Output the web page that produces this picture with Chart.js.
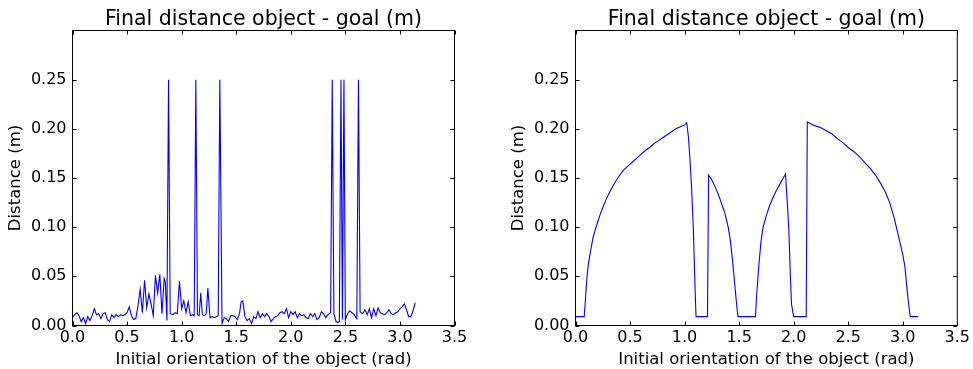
<!DOCTYPE html>
<html><head><meta charset="utf-8">
<script src="https://cdn.jsdelivr.net/npm/chart.js@4.4.0/dist/chart.umd.min.js"></script>
<style>
html,body{margin:0;padding:0;background:#fff;width:973px;height:369px;overflow:hidden}
.panel{position:absolute;top:0;height:369px}
canvas{display:block}
</style></head><body>
<div class="panel" style="left:0;width:486px"><canvas id="c1" width="486" height="369"></canvas></div>
<div class="panel" style="left:486px;width:487px"><canvas id="c2" width="487" height="369"></canvas></div>
<script>
const titleText = 'Final distance object - goal (m)';
const xLabel = 'Initial orientation of the object (rad)';
const yLabel = 'Distance (m)';
const xTickValues = [0.0, 0.5, 1.0, 1.5, 2.0, 2.5, 3.0, 3.5];
const xTickLabels = ['0.0','0.5','1.0','1.5','2.0','2.5','3.0','3.5'];
const yTickValues = [0.00, 0.05, 0.10, 0.15, 0.20, 0.25];
const yTickLabels = ['0.00','0.05','0.10','0.15','0.20','0.25'];

// Left panel
const leftAngles = [
  0.00,0.02,0.04,0.06,0.08,0.10,0.12,0.14,0.16,0.18,
  0.20,0.22,0.24,0.26,0.28,0.30,0.32,0.34,0.36,0.38,
  0.40,0.42,0.44,0.46,0.48,0.50,0.52,0.54,0.56,0.58,
  0.60,0.62,0.64,0.66,0.68,0.70,0.72,0.74,0.76,0.78,
  0.80,0.82,0.84,0.85,0.865,0.88,0.895,0.92,0.94,0.96,
  0.98,1.00,1.02,1.04,1.06,1.08,1.10,1.115,1.13,1.145,
  1.16,1.175,1.19,1.21,1.225,1.24,1.26,1.28,1.30,1.32,
  1.335,1.35,1.37,1.39,1.41,1.43,1.45,1.47,1.49,1.51,
  1.53,1.545,1.56,1.58,1.60,1.62,1.64,1.66,1.68,1.70,
  1.72,1.74,1.76,1.78,1.80,1.82,1.84,1.86,1.88,1.90,
  1.92,1.94,1.96,1.98,2.00,2.02,2.04,2.06,2.08,2.10,
  2.12,2.14,2.16,2.18,2.20,2.22,2.24,2.26,2.28,2.30,
  2.32,2.34,2.365,2.38,2.395,2.415,2.43,2.445,2.46,2.473,
  2.487,2.50,2.52,2.54,2.56,2.58,2.605,2.62,2.635,2.66,
  2.68,2.70,2.72,2.74,2.76,2.78,2.80,2.82,2.84,2.86,
  2.88,2.90,2.92,2.94,2.96,2.98,3.00,3.02,3.04,3.06,
  3.08,3.10,3.12,3.14
];
const leftDistances = [
  0.008,0.011,0.013,0.010,0.004,0.008,0.002,0.009,0.005,0.010,
  0.017,0.011,0.012,0.007,0.012,0.013,0.006,0.004,0.011,0.008,
  0.011,0.009,0.011,0.010,0.011,0.013,0.019,0.010,0.006,0.007,
  0.020,0.037,0.013,0.046,0.018,0.032,0.022,0.010,0.051,0.033,
  0.052,0.012,0.048,0.045,0.005,0.250,0.012,0.011,0.013,0.012,
  0.045,0.017,0.025,0.013,0.024,0.010,0.011,0.010,0.250,0.011,
  0.010,0.033,0.011,0.010,0.012,0.038,0.008,0.009,0.008,0.009,
  0.010,0.250,0.002,0.008,0.007,0.004,0.010,0.010,0.009,0.006,
  0.012,0.024,0.025,0.009,0.005,0.007,0.002,0.009,0.007,0.014,
  0.008,0.012,0.009,0.012,0.009,0.004,0.007,0.009,0.010,0.013,
  0.014,0.012,0.017,0.008,0.014,0.011,0.014,0.008,0.012,0.010,
  0.011,0.008,0.007,0.012,0.009,0.012,0.006,0.008,0.014,0.012,
  0.008,0.011,0.013,0.250,0.012,0.004,0.003,0.004,0.250,0.006,
  0.250,0.006,0.012,0.015,0.013,0.011,0.007,0.250,0.014,0.012,
  0.016,0.011,0.017,0.008,0.017,0.010,0.018,0.013,0.012,0.011,
  0.013,0.016,0.012,0.011,0.013,0.014,0.017,0.019,0.022,0.016,
  0.009,0.009,0.015,0.023
];

// Right panel
const rightAngles = [
  0.00,0.08,0.09,0.10,0.11,0.12,0.14,0.16,0.18,0.20,
  0.22,0.25,0.28,0.31,0.34,0.37,0.40,0.44,0.48,0.52,
  0.56,0.60,0.64,0.68,0.72,0.76,0.80,0.84,0.88,0.92,
  0.96,1.00,1.02,1.035,1.05,1.065,1.08,1.09,1.10,1.105,
  1.21,1.22,1.25,1.28,1.31,1.34,1.37,1.40,1.42,1.44,
  1.46,1.48,1.49,1.65,1.66,1.68,1.70,1.72,1.75,1.78,
  1.81,1.84,1.87,1.90,1.925,1.94,1.955,1.97,1.98,2.00,
  2.115,2.125,2.16,2.20,2.25,2.30,2.35,2.40,2.45,2.50,
  2.55,2.60,2.65,2.70,2.75,2.80,2.84,2.88,2.92,2.95,
  2.98,3.00,3.02,3.04,3.06,3.07,3.14
];
const rightDistances = [
  0.009,0.009,0.025,0.042,0.055,0.064,0.077,0.089,0.097,0.104,
  0.111,0.120,0.128,0.135,0.141,0.147,0.152,0.158,0.162,0.166,
  0.170,0.174,0.178,0.181,0.185,0.188,0.191,0.194,0.197,0.200,
  0.202,0.204,0.206,0.192,0.168,0.138,0.100,0.060,0.025,0.009,
  0.009,0.153,0.148,0.141,0.133,0.124,0.114,0.100,0.086,0.066,
  0.042,0.018,0.009,0.009,0.030,0.060,0.085,0.100,0.112,0.122,
  0.130,0.137,0.143,0.149,0.154,0.128,0.100,0.050,0.022,0.009,
  0.009,0.207,0.205,0.203,0.201,0.198,0.195,0.190,0.186,0.181,
  0.177,0.172,0.166,0.160,0.153,0.144,0.136,0.125,0.110,0.096,
  0.082,0.072,0.060,0.036,0.016,0.009,0.009
];

const FONT = "'DejaVu Sans', sans-serif";

const framePlugin = {
  id: 'frame',
  afterDraw(chart) {
    const {ctx, chartArea: a, scales: {x, y}} = chart;
    ctx.save();
    ctx.strokeStyle = '#000';
    ctx.lineWidth = 1;
    ctx.beginPath();
    x.ticks.forEach(t => {
      const p = Math.round(x.getPixelForValue(t.value)) + 0.5;
      ctx.moveTo(p, a.bottom); ctx.lineTo(p, a.bottom - 4);
      ctx.moveTo(p, a.top); ctx.lineTo(p, a.top + 4);
    });
    y.ticks.forEach(t => {
      const p = Math.round(y.getPixelForValue(t.value)) + 0.5;
      ctx.moveTo(a.left, p); ctx.lineTo(a.left + 4, p);
      ctx.moveTo(a.right, p); ctx.lineTo(a.right - 4, p);
    });
    ctx.stroke();
    ctx.strokeRect(a.left, a.top, a.right - a.left, a.bottom - a.top);
    ctx.fillStyle = '#000';
    ctx.font = '20.5px ' + FONT;
    ctx.textAlign = 'center';
    ctx.textBaseline = 'alphabetic';
    ctx.fillText(titleText, (a.left + a.right) / 2, 25);
    ctx.restore();
  }
};

function makeChart(id, angles, dists, leftW, rightPad, yTitlePad) {
  const pts = angles.map((a, i) => ({x: a, y: dists[i]}));
  return new Chart(document.getElementById(id), {
    type: 'line',
    data: {datasets: [{data: pts, borderColor: '#0000ff', borderWidth: 1.1, pointRadius: 0, fill: false, tension: 0}]},
    options: {
      responsive: false, animation: false, events: [],
      layout: {padding: {top: 30.5, right: rightPad, bottom: 0, left: 0}},
      plugins: {legend: {display: false}, tooltip: {enabled: false}, title: {display: false}},
      scales: {
        x: {
          type: 'linear', min: 0, max: 3.5,
          afterBuildTicks: s => { s.ticks = xTickValues.map(v => ({value: v})); },
          ticks: {autoSkip: false, maxRotation: 0, minRotation: 0, padding: 3, color: '#000',
                  font: {family: FONT, size: 16}, callback: (v, i) => xTickLabels[i]},
          grid: {display: false, drawTicks: false},
          border: {display: false},
          title: {display: true, text: xLabel, color: '#000', font: {family: FONT, size: 16.5},
                  padding: {top: 0, bottom: -1}},
          afterFit: s => { s.height = 43.5; }
        },
        y: {
          type: 'linear', min: 0, max: 0.3,
          afterBuildTicks: s => { s.ticks = yTickValues.map(v => ({value: v})); },
          ticks: {autoSkip: false, padding: 6, color: '#000',
                  font: {family: FONT, size: 16}, callback: (v, i) => yTickLabels[i]},
          grid: {display: false, drawTicks: false},
          border: {display: false},
          title: {display: true, text: yLabel, color: '#000', font: {family: FONT, size: 16.5},
                  padding: {top: yTitlePad, bottom: 0}},
          afterFit: s => { s.width = leftW; }
        }
      }
    },
    plugins: [framePlugin]
  });
}

makeChart('c1', leftAngles, leftDistances, 72.5, 31.5, 6.3);
makeChart('c2', rightAngles, rightDistances, 89.5, 14.5, 23.3);
</script>
</body></html>
